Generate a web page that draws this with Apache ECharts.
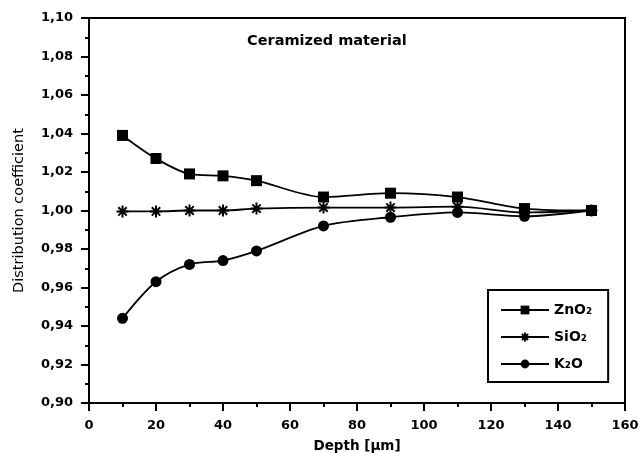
<!DOCTYPE html>
<html>
<head>
<meta charset="utf-8">
<script src="https://cdn.jsdelivr.net/npm/echarts@6/dist/echarts.min.js"></script>
<style>
  html, body { margin: 0; padding: 0; background: #fff; }
  #chart { width: 641px; height: 453px; }
</style>
</head>
<body>
<div id="chart"></div>
<script>
// Depth positions (µm) where the distribution coefficient was measured
const depth = [10, 20, 30, 40, 50, 70, 90, 110, 130, 150];

// Distribution coefficient per oxide
const zno2 = [1.039, 1.027, 1.019, 1.018, 1.0155, 1.007, 1.009, 1.007, 1.001, 1.000];
const sio2 = [0.9995, 0.9995, 1.000, 1.000, 1.001, 1.0015, 1.0015, 1.002, 0.999, 1.000];
const k2o  = [0.944, 0.963, 0.972, 0.974, 0.979, 0.992, 0.9965, 0.999, 0.997, 1.000];

const seriesNames = ['ZnO\u2082', 'SiO\u2082', 'K\u2082O'];

// Eight-armed star drawn as strokes
const starPath = 'path://M5 0 L5 10 M0 5 L10 5 M1.5 1.5 L8.5 8.5 M1.5 8.5 L8.5 1.5';

const pairs = (ys) => depth.map((x, i) => [x, ys[i]]);

const labelFont = { fontFamily: 'DejaVu Sans', fontWeight: 'bold', fontSize: 13, color: '#000' };

const chart = echarts.init(document.getElementById('chart'), null, { renderer: 'canvas' });

const baseSeries = {
  type: 'line',
  smooth: 0.3,
  lineStyle: { color: '#000', width: 1.8 },
  itemStyle: { color: '#000' },
  animation: false,
  z: 3
};

chart.setOption({
  backgroundColor: '#fff',
  animation: false,
  title: {
    text: 'Ceramized material',
    left: 247, top: 34, padding: 0,
    textStyle: { fontFamily: 'DejaVu Sans', fontWeight: 'bold', fontSize: 14.5, color: '#000' }
  },
  grid: {
    left: 89, right: 16, top: 18, bottom: 50,
    containLabel: false,
    outerBoundsMode: 'none',
    show: true, borderColor: '#000', borderWidth: 2, backgroundColor: 'transparent'
  },
  legend: {
    orient: 'vertical',
    left: 488, top: 290,
    padding: [13, 16, 11, 12],
    itemGap: 13,
    itemWidth: 48, itemHeight: 11,
    borderColor: '#000', borderWidth: 2,
    backgroundColor: '#fff',
    textStyle: { fontFamily: 'DejaVu Sans', fontWeight: 'bold', fontSize: 14, color: '#000' },
    data: seriesNames
  },
  xAxis: {
    type: 'value',
    min: 0, max: 160, interval: 20,
    name: 'Depth [\u00b5m]',
    nameLocation: 'middle',
    nameGap: 36,
    nameTextStyle: { fontFamily: 'DejaVu Sans', fontWeight: 'bold', fontSize: 13.5, color: '#000' },
    axisLine: { lineStyle: { color: '#000', width: 2 } },
    axisTick: { inside: false, length: 8, lineStyle: { color: '#000', width: 2 } },
    minorTick: { show: true, splitNumber: 2, length: 4, lineStyle: { color: '#000', width: 2 } },
    splitLine: { show: false },
    axisLabel: Object.assign({ margin: 16 }, labelFont)
  },
  yAxis: {
    type: 'value',
    min: 0.90, max: 1.10, interval: 0.02,
    name: 'Distribution coefficient',
    nameLocation: 'middle',
    nameGap: 62,
    nameTextStyle: { fontFamily: 'DejaVu Sans', fontSize: 14.5, color: '#000' },
    axisLine: { show: true, lineStyle: { color: '#000', width: 2 } },
    axisTick: { show: true, inside: false, length: 8, lineStyle: { color: '#000', width: 2 } },
    minorTick: { show: true, splitNumber: 2, length: 4, lineStyle: { color: '#000', width: 2 } },
    splitLine: { show: false },
    axisLabel: Object.assign({
      margin: 16,
      formatter: (v) => v.toFixed(2).replace('.', ',')
    }, labelFont)
  },
  series: [
    Object.assign({}, baseSeries, {
      name: seriesNames[0],
      symbol: 'rect', symbolSize: 11,
      data: pairs(zno2)
    }),
    Object.assign({}, baseSeries, {
      name: seriesNames[1],
      symbol: starPath, symbolSize: 12,
      itemStyle: { color: 'transparent', borderColor: '#000', borderWidth: 2 },
      data: pairs(sio2)
    }),
    Object.assign({}, baseSeries, {
      name: seriesNames[2],
      symbol: 'circle', symbolSize: 11,
      data: pairs(k2o)
    })
  ]
});
</script>
</body>
</html>
